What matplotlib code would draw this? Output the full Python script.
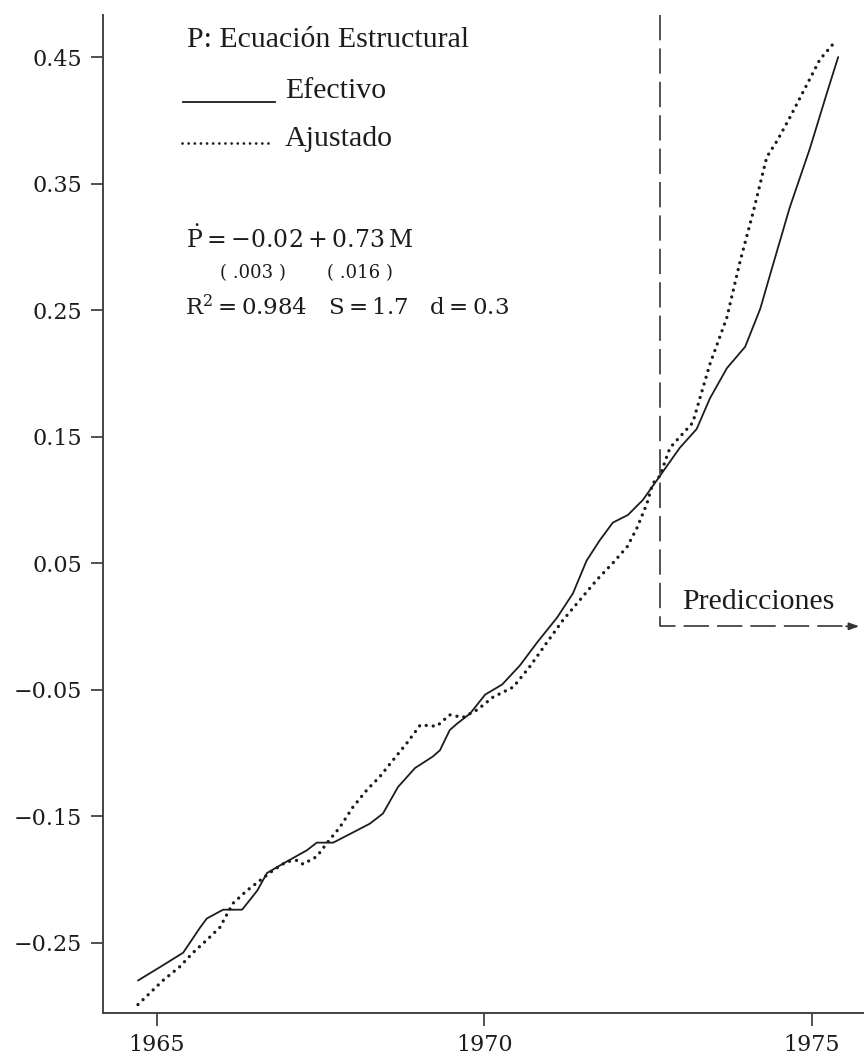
import matplotlib
matplotlib.use("Agg")
import matplotlib.pyplot as plt

# ---------------- data ----------------
efectivo_year = [1964.71, 1965.09, 1965.40, 1965.66, 1965.76, 1966.01, 1966.30, 1966.53,
                 1966.68, 1966.98, 1967.29, 1967.44, 1967.69, 1967.99, 1968.25, 1968.45,
                 1968.68, 1968.94, 1969.21, 1969.32, 1969.47, 1969.58, 1969.78, 1970.01,
                 1970.27, 1970.54, 1970.80, 1971.11, 1971.35, 1971.56, 1971.76, 1971.96,
                 1972.19, 1972.42, 1972.68, 1972.98, 1973.24, 1973.44, 1973.70, 1973.98,
                 1974.21, 1974.40, 1974.66, 1974.97, 1975.23, 1975.40]
efectivo_value = [-0.280, -0.268, -0.258, -0.238, -0.231, -0.224, -0.224, -0.209,
                  -0.195, -0.186, -0.177, -0.171, -0.171, -0.163, -0.156, -0.148,
                  -0.127, -0.112, -0.103, -0.098, -0.082, -0.077, -0.069, -0.054,
                  -0.046, -0.031, -0.013, 0.007, 0.026, 0.052, 0.068, 0.082,
                  0.088, 0.100, 0.119, 0.141, 0.156, 0.180, 0.204, 0.221,
                  0.251, 0.285, 0.331, 0.378, 0.422, 0.450]

ajustado_year = [1964.71, 1964.89, 1965.09, 1965.35, 1965.55, 1965.76, 1965.96, 1966.16,
                 1966.37, 1966.57, 1966.77, 1966.98, 1967.14, 1967.23, 1967.44, 1967.60,
                 1967.79, 1967.99, 1968.21, 1968.40, 1968.60, 1968.82, 1969.02, 1969.27,
                 1969.47, 1969.67, 1969.89, 1970.13, 1970.44, 1970.69, 1970.95, 1971.20,
                 1971.46, 1971.72, 1971.96, 1972.18, 1972.33, 1972.48, 1972.57, 1972.68,
                 1972.83, 1973.18, 1973.44, 1973.70, 1973.90, 1974.10, 1974.31, 1974.47,
                 1974.66, 1974.86, 1975.12, 1975.35]
ajustado_value = [-0.299, -0.290, -0.280, -0.269, -0.258, -0.248, -0.238, -0.219,
                  -0.209, -0.201, -0.193, -0.186, -0.185, -0.188, -0.182, -0.171,
                  -0.159, -0.143, -0.129, -0.119, -0.106, -0.092, -0.078, -0.079,
                  -0.070, -0.072, -0.066, -0.056, -0.048, -0.032, -0.013, 0.005,
                  0.021, 0.037, 0.050, 0.063, 0.078, 0.097, 0.113, 0.119,
                  0.141, 0.161, 0.207, 0.244, 0.288, 0.327, 0.371, 0.384,
                  0.402, 0.422, 0.448, 0.462]

prediction_start = 1972.68
prediction_end = 1975.72
prediction_level = 0.0

x_ticks = [1965, 1970, 1975]
x_tick_labels = ["1965", "1970", "1975"]
y_ticks = [-0.25, -0.15, -0.05, 0.05, 0.15, 0.25, 0.35, 0.45]
y_tick_labels = ["\u22120.25", "\u22120.15", "\u22120.05", "0.05", "0.15", "0.25", "0.35", "0.45"]

x_limits = (1964.176, 1975.794)
y_limits = (-0.3057, 0.4832)

# ---------------- styling ----------------
plt.rcParams["mathtext.fontset"] = "dejavuserif"
TEXT_FONT = ["Liberation Serif", "DejaVu Serif"]
TICK_FONT = ["DejaVu Serif"]
INK = "#1c1c1c"

fig = plt.figure(figsize=(8.64, 10.59), dpi=100)
ax = fig.add_axes([0.1192, 0.0434, 0.8808, 0.9424])

ax.plot(efectivo_year, efectivo_value, color=INK, lw=1.3, solid_capstyle="round")
ax.plot(ajustado_year, ajustado_value, color=INK, lw=2.4,
        linestyle=(0, (0.01, 2.1)), dash_capstyle="round")

# predictions marker (dashed L with arrow)
ax.plot([prediction_start, prediction_start, prediction_end - 0.08],
        [y_limits[1], prediction_level, prediction_level],
        color="#444444", lw=1.3, linestyle=(0, (14, 4.5)))
ax.annotate("", xy=(prediction_end, prediction_level),
            xytext=(prediction_end - 0.2, prediction_level),
            arrowprops=dict(arrowstyle="-|>,head_length=0.6,head_width=0.22",
                            color="#333333", lw=1.2, shrinkA=0, shrinkB=0))

ax.set_xlim(*x_limits)
ax.set_ylim(*y_limits)
ax.set_xticks(x_ticks)
ax.set_xticklabels(x_tick_labels, family=TICK_FONT)
ax.set_yticks(y_ticks)
ax.set_yticklabels(y_tick_labels, family=TICK_FONT)
ax.tick_params(direction="out", length=9, width=1.2, labelsize=16, pad=6,
               colors="#333333", labelcolor=INK)
for side in ("top", "right"):
    ax.spines[side].set_visible(False)
for side in ("left", "bottom"):
    ax.spines[side].set_linewidth(1.4)
    ax.spines[side].set_color("#444444")

# legend-like annotation block
T = ax.transAxes
ax.text(0.1104, 0.9679, "P: Ecuación Estructural", transform=T, family=TEXT_FONT,
        fontsize=21.5, color=INK, va="baseline", ha="left")
ax.plot([0.1051, 0.2260], [0.9128, 0.9128], transform=T, color=INK, lw=1.3)
ax.text(0.2392, 0.9168, "Efectivo", transform=T, family=TEXT_FONT,
        fontsize=21.5, color=INK, va="baseline", ha="left")
ax.plot([0.1038, 0.2234], [0.8717, 0.8717], transform=T, color=INK, lw=2.0,
        linestyle=(0, (0.01, 2.2)), dash_capstyle="round")
ax.text(0.2392, 0.8687, "Ajustado", transform=T, family=TEXT_FONT,
        fontsize=21.5, color=INK, va="baseline", ha="left")

ax.text(0.1091, 0.7665, r"$\dot{\mathrm{P}} = -0.02 + 0.73\,\mathrm{M}$", transform=T,
        fontsize=17, color=INK, va="baseline", ha="left")
ax.text(0.1537, 0.7365, "( .003 )", transform=T, family=TICK_FONT,
        fontsize=13, color=INK, va="baseline", ha="left")
ax.text(0.2943, 0.7365, "( .016 )", transform=T, family=TICK_FONT,
        fontsize=13, color=INK, va="baseline", ha="left")
ax.text(0.1078, 0.6994,
        r"$\mathrm{R}^2 = 0.984\quad \mathrm{S} = 1.7\quad \mathrm{d} = 0.3$",
        transform=T, fontsize=16.5, color=INK, va="baseline", ha="left")

ax.text(0.7608, 0.4048, "Predicciones", transform=T, family=TEXT_FONT,
        fontsize=21.5, color=INK, va="baseline", ha="left")

fig.savefig("out.png", dpi=100)
